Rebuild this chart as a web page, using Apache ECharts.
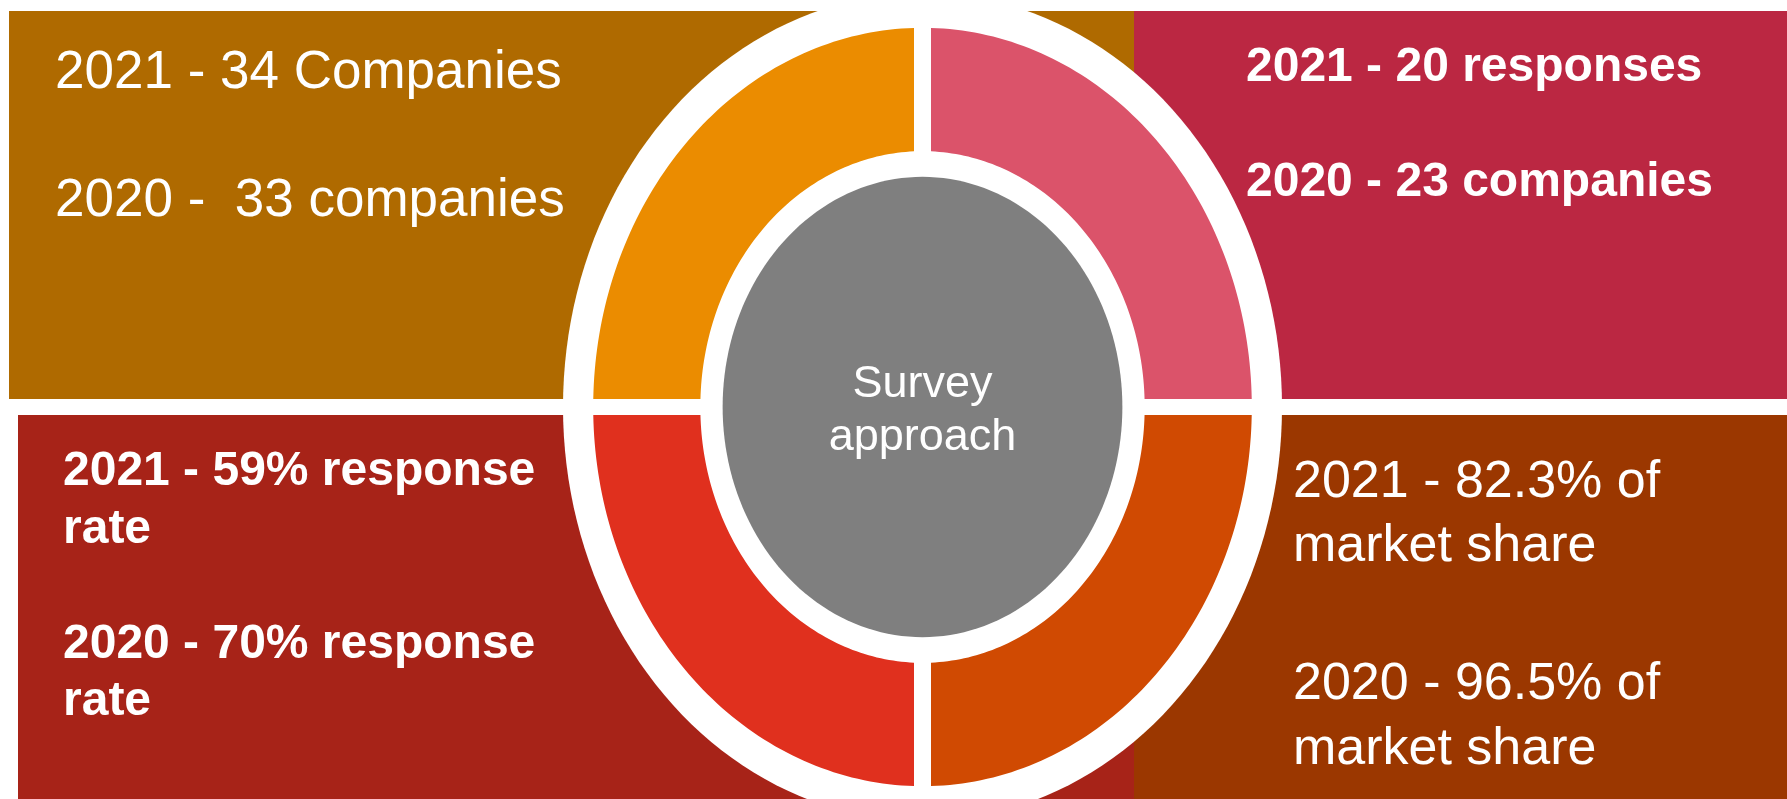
<!DOCTYPE html>
<html><head><meta charset="utf-8">
<script src="https://cdn.jsdelivr.net/npm/echarts@6/dist/echarts.min.js"></script>
<style>html,body{margin:0;padding:0;background:#fff;overflow:hidden}#c{width:1787px;height:799px}</style>
</head><body><div id="c"></div>
<script>
// ---------- data ----------
const quadrantNames = ['topLeft', 'topRight', 'bottomLeft', 'bottomRight'];
const quadrantSignX = [-1, 1, -1, 1];
const quadrantSignY = [1, 1, -1, -1];
const topLeftLines = ['2021 - 34 Companies', '2020 -  33 companies'];
const topRightLines = ['2021 - 20 responses', '2020 - 23 companies'];
const bottomLeftLines = ['2021 - 59% response', 'rate', '2020 - 70% response', 'rate'];
const bottomRightLines = ['2021 - 82.3% of', 'market share', '2020 - 96.5% of', 'market share'];
const centerLines = ['Survey', 'approach'];
const quadrantLines = [topLeftLines, topRightLines, bottomLeftLines, bottomRightLines];

// ---------- layout & style (pixels) ----------
const W = 1787, H = 799;
const CX = 922.5, CY = 407, AX = 359.5, BY = 414;   // outer ellipse centre & semi-axes
const ux = px => (px - CX) / AX;
const uy = py => (CY - py) / BY;
const GX = 8.5 / AX, GY = 8 / BY;                   // half gaps
const R_OUT = 0.916, R_IN = 0.618, R_HUB = 0.556;
const FONT = '"Liberation Sans", Arial, Helvetica, sans-serif';
const tileLayout = [
  {x0: 9, y0: 11, x1: 1134, y1: 399, color: '#AF6A00', tx: 55, base: [86, 214], size: 53, weight: 'normal'},
  {x0: 1134, y0: 11, x1: W, y1: 399, color: '#BB2742', tx: 1246, base: [79, 194], size: 48, weight: 'bold'},
  {x0: 18, y0: 415, x1: 1134, y1: H, color: '#A72318', tx: 63, base: [483, 541, 656, 713], size: 48, weight: 'bold'},
  {x0: 1134, y0: 415, x1: W, y1: H, color: '#9B3700', tx: 1293, base: [495, 559, 697, 762], size: 52, weight: 'normal'}
];
const ringColors = ['#EB8C00', '#DB536A', '#E0301E', '#D04A02'];

function textEl(str, x, baseline, size, weight, align) {
  return {
    type: 'text',
    style: {
      text: str, x: x, y: baseline - 0.24 * size,
      fill: '#ffffff', font: weight + ' ' + size + 'px ' + FONT,
      align: align || 'left', verticalAlign: 'middle'
    }
  };
}

function ellipsePts(api, r) {
  const pts = [];
  for (let k = 0; k < 180; k++) {
    const t = 2 * Math.PI * k / 180;
    pts.push(api.coord([r * Math.cos(t), r * Math.sin(t)]));
  }
  return pts;
}

function ringPts(api, sx, sy, r1, r2) {
  const pts = [], N = 80;
  const a1 = Math.asin(GY / r1), b1 = Math.acos(GX / r1);
  for (let k = 0; k <= N; k++) {
    const f = a1 + (b1 - a1) * k / N;
    pts.push(api.coord([sx * r1 * Math.cos(f), sy * r1 * Math.sin(f)]));
  }
  const a2 = Math.asin(GY / r2), b2 = Math.acos(GX / r2);
  for (let k = N; k >= 0; k--) {
    const f = a2 + (b2 - a2) * k / N;
    pts.push(api.coord([sx * r2 * Math.cos(f), sy * r2 * Math.sin(f)]));
  }
  return pts;
}

const quadData = quadrantNames.map((n, i) => ({name: n, value: [quadrantSignX[i], quadrantSignY[i]]}));

const option = {
  animation: false,
  backgroundColor: '#ffffff',
  grid: {left: 0, right: 0, top: 0, bottom: 0},
  xAxis: {type: 'value', min: ux(0), max: ux(W), show: false},
  yAxis: {type: 'value', min: uy(H), max: uy(0), show: false},
  series: [
    {
      type: 'custom', name: 'tiles', z: 1, data: quadData,
      renderItem: function (params, api) {
        const i = params.dataIndex, L = tileLayout[i];
        const p0 = api.coord([ux(L.x0), uy(L.y0)]);
        const p1 = api.coord([ux(L.x1), uy(L.y1)]);
        const children = [{
          type: 'rect',
          shape: {x: p0[0], y: p0[1], width: p1[0] - p0[0], height: p1[1] - p0[1]},
          style: {fill: L.color}
        }];
        quadrantLines[i].forEach((s, j) => {
          children.push(textEl(s, L.tx, L.base[j], L.size, L.weight));
        });
        return {type: 'group', children: children};
      }
    },
    {
      type: 'custom', name: 'outer', z: 2, data: [[0, 0]],
      renderItem: function (params, api) {
        return {type: 'polygon', shape: {points: ellipsePts(api, 1)}, style: {fill: '#ffffff'}};
      }
    },
    {
      type: 'custom', name: 'ring', z: 3, data: quadData,
      renderItem: function (params, api) {
        const sx = api.value(0), sy = api.value(1);
        return {
          type: 'polygon',
          shape: {points: ringPts(api, sx, sy, R_OUT, R_IN)},
          style: {fill: ringColors[params.dataIndex]}
        };
      }
    },
    {
      type: 'custom', name: 'hub', z: 4, data: [[0, 0]],
      renderItem: function (params, api) {
        const c = api.coord([0, 0]);
        return {
          type: 'group',
          children: [
            {type: 'polygon', shape: {points: ellipsePts(api, R_HUB)}, style: {fill: '#7F7F7F'}},
            textEl(centerLines[0], c[0], 395, 45, 'normal', 'center'),
            textEl(centerLines[1], c[0], 448, 45, 'normal', 'center')
          ]
        };
      }
    }
  ]
};

const chart = echarts.init(document.getElementById('c'), null, {renderer: 'canvas'});
chart.setOption(option);
</script>
</body></html>
